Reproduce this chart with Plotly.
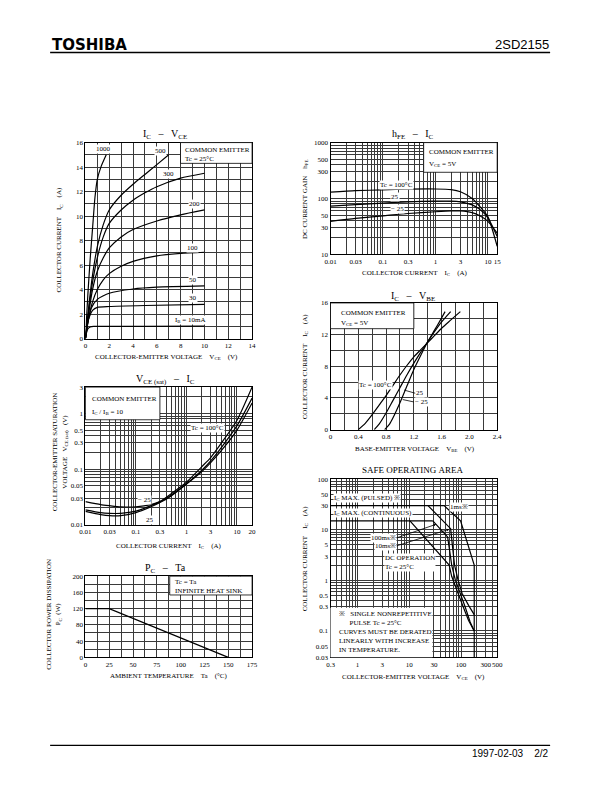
import numpy as np
import plotly.graph_objects as go

SERIF = "Liberation Serif"
W, H = 612, 792
GRID = "#3a3a3a"
NB = "\u00a0"
GAP = NB * 4

# ---------------- DATA ----------------
# IC - VCE  (IB in mA)
vce_1000 = [0, 0.2, 0.4, 0.6, 0.8, 1.0, 1.3, 1.75]
ic_1000 = [0, 3.5, 6.5, 9.0, 11.5, 13.0, 14.0, 15.0]
vce_500 = [0, 0.3, 0.6, 1, 1.5, 2, 3, 4, 5, 6, 7]
ic_500 = [0, 2.8, 5.2, 7.5, 9.3, 10.5, 11.7, 12.6, 13.4, 14.2, 15.0]
vce_300 = [0, 0.3, 0.6, 1, 1.5, 2, 3, 4, 5, 6, 8, 10]
ic_300 = [0, 2.5, 4.6, 6.6, 8.3, 9.4, 10.5, 11.3, 11.9, 12.4, 13.1, 13.5]
vce_200 = [0, 0.3, 0.6, 1, 1.5, 2, 3, 4, 6, 8, 10]
ic_200 = [0, 2.2, 4.0, 5.5, 6.6, 7.4, 8.3, 8.9, 9.6, 10.1, 10.5]
vce_100 = [0, 0.3, 0.6, 1, 1.5, 2, 3, 4, 6, 8, 10]
ic_100 = [0, 1.8, 3.0, 4.0, 4.8, 5.3, 5.9, 6.3, 6.75, 6.95, 7.05]
vce_50 = [0, 0.2, 0.5, 1, 2, 4, 6, 10]
ic_50 = [0, 1.3, 2.5, 3.2, 3.7, 4.05, 4.2, 4.3]
vce_30 = [0, 0.1, 0.3, 0.6, 1, 2, 5, 10]
ic_30 = [0, 0.8, 1.7, 2.3, 2.55, 2.62, 2.7, 2.8]
vce_10 = [0, 0.1, 0.2, 0.4, 0.7, 1, 5, 10]
ic_10 = [0, 0.5, 0.8, 0.95, 1.0, 1.0, 1.0, 1.02]

# hFE - IC
ic_h = [0.01, 0.03, 0.1, 0.3, 1, 2, 3, 5, 7, 10, 15]
hfe_100 = [130, 138, 143, 147, 148, 144, 132, 100, 72, 47, 14]
hfe_25 = [73, 78, 83, 87, 90, 90, 87, 77, 64, 45, 21]
hfe_m25 = [39, 44, 49, 54, 58, 60, 60, 56, 49, 39, 24]

# IC - VBE
vbe_100 = [0.40, 0.5, 0.6, 0.7, 0.8, 0.9, 1.0, 1.1, 1.2, 1.3, 1.4, 1.5, 1.6, 1.7, 1.87]
icb_100 = [0, 0.8, 1.9, 3.1, 4.3, 5.6, 6.9, 8.1, 9.2, 10.1, 11.0, 11.9, 12.8, 13.6, 14.9]
vbe_25 = [0.63, 0.7, 0.8, 0.9, 1.0, 1.1, 1.2, 1.3, 1.4, 1.5, 1.6, 1.73]
icb_25 = [0, 0.7, 2.1, 3.7, 5.3, 6.9, 8.4, 9.8, 11.1, 12.4, 13.6, 14.9]
vbe_m25 = [0.78, 0.85, 0.9, 1.0, 1.1, 1.2, 1.3, 1.4, 1.5, 1.58, 1.65]
icb_m25 = [0, 0.7, 1.5, 3.4, 5.5, 7.6, 9.4, 11.1, 12.6, 13.8, 14.9]

# VCE(sat) - IC
ic_s = [0.01, 0.02, 0.03, 0.05, 0.1, 0.2, 0.3, 0.5, 1, 2, 3, 5, 10, 20]
vs_100 = [0.0185, 0.0165, 0.016, 0.016, 0.0175, 0.022, 0.026, 0.036, 0.058, 0.11, 0.16, 0.30, 0.75, 3.0]
vs_25 = [0.0173, 0.0152, 0.0145, 0.0145, 0.0165, 0.021, 0.025, 0.033, 0.054, 0.095, 0.14, 0.25, 0.60, 1.9]
vs_m25 = [0.026, 0.023, 0.022, 0.021, 0.021, 0.023, 0.026, 0.034, 0.054, 0.09, 0.13, 0.22, 0.50, 1.55]

# PC - Ta
ta = [0, 25, 150]
pc = [120, 120, 0]

# Safe operating area
vce_cont = [0.3, 28.5]
ic_cont = [15, 15]
vce_1ms = [0.3, 47, 98, 180, 180]
ic_1ms = [30, 30, 15, 2.0, 0.03]
vce_10ms = [23, 44, 63, 68, 75, 88, 105, 140, 180]
ic_10ms = [30, 15, 10.5, 5, 2, 1.0, 0.55, 0.32, 0.21]
vce_100ms = [28.5, 55, 60, 66, 78, 94, 120, 150, 180]
ic_100ms = [15, 7.2, 4, 2, 1.0, 0.6, 0.3, 0.15, 0.1]
vce_dc = [10.3, 59, 66, 75, 85, 110, 140, 180]
ic_dc = [15, 2.0, 1.2, 0.8, 0.6, 0.3, 0.16, 0.1]


# ---------------- helpers ----------------
def PX(x):
    return x / W


def PY(y):
    return 1 - y / H


def logvals(lo, hi):
    out = []
    for d in range(-3, 4):
        for k in range(1, 10):
            v = k * 10 ** d
            if lo - 1e-12 <= v <= hi + 1e-12:
                out.append(round(v, 6))
    return out


fig = go.Figure()
annots = []
shapes = []


def line(x, y, ax, w=1.2):
    fig.add_trace(go.Scatter(x=x, y=y, mode="lines", xaxis="x" + ax, yaxis="y" + ax,
                             line=dict(color="black", width=w, shape="spline", smoothing=0.6),
                             showlegend=False, hoverinfo="skip"))


def pline(x, y, ax, w=1.2):
    fig.add_trace(go.Scatter(x=x, y=y, mode="lines", xaxis="x" + ax, yaxis="y" + ax,
                             line=dict(color="black", width=w),
                             showlegend=False, hoverinfo="skip"))


def txt(text, x, y, size=7, xa="center", ya="middle", angle=0, xref="paper", yref="paper",
        bg=None, family=SERIF, color="black", align="center"):
    d = dict(text=text, x=x, y=y, xref=xref, yref=yref, showarrow=False, xanchor=xa, yanchor=ya,
             textangle=angle, font=dict(family=family, size=size, color=color), borderpad=0, align=align)
    if bg:
        d["bgcolor"] = bg
    annots.append(d)


def box(x0, y0, x1, y1):
    shapes.append(dict(type="rect", xref="paper", yref="paper", x0=PX(x0), x1=PX(x1),
                       y0=PY(y1), y1=PY(y0), fillcolor="white", line=dict(color="black", width=0.8),
                       layer="above"))


def axis(domain, rng, tickvals, ticktext, minor_vals, anchor, log=False):
    d = dict(domain=domain, range=rng, anchor=anchor, showline=True, linecolor="black", linewidth=1,
             mirror=True, ticks="", showgrid=True, gridcolor=GRID, gridwidth=0.6, zeroline=False,
             tickvals=tickvals, ticktext=ticktext, tickfont=dict(family=SERIF, size=7, color="black"),
             tickangle=0,
             minor=dict(tickvals=minor_vals, showgrid=True, gridcolor=GRID, gridwidth=0.5, ticks=""),
             fixedrange=True)
    if log:
        d["type"] = "log"
    return d


# ---------------- Chart 1 : IC - VCE ----------------
for xs, ys in [(vce_1000, ic_1000), (vce_500, ic_500), (vce_300, ic_300), (vce_200, ic_200),
               (vce_100, ic_100), (vce_50, ic_50), (vce_30, ic_30), (vce_10, ic_10)]:
    line(xs, ys, "1")

x1t = list(range(0, 15, 2))
y1t = list(range(0, 17, 2))
xax1 = axis([PX(81), PX(251)], [0, 14], x1t, [str(v) for v in x1t], list(range(1, 14, 2)), "y1")
yax1 = axis([PY(338), PY(140)], [0, 16], y1t, [str(v) for v in y1t], list(range(1, 16, 2)), "x1")

for t, x, y in [("1000", 1.55, 15.45), ("500", 6.3, 15.3), ("300", 7.0, 13.4), ("200", 9.2, 11.0),
                ("100", 9.0, 7.4), ("50", 9.0, 4.75), ("30", 9.0, 3.3)]:
    txt(t, x, y, xref="x", yref="y", bg="white")
txt("I<sub>B</sub>" + NB + "=" + NB + "10mA", 8.86, 1.48, xref="x", yref="y", bg="white")
box(178, 140, 251, 161)
txt("COMMON" + NB + "EMITTER", PX(182), PY(147.5), xa="left")
txt("Tc" + NB + "=" + NB + "25°C", PX(182), PY(157), xa="left")
txt("I<sub>C</sub>" + NB * 3 + "–" + NB * 3 + "V<sub>CE</sub>", PX(162), PY(131.5), size=10)
txt("COLLECTOR-EMITTER" + NB + "VOLTAGE" + GAP + "V<sub>CE</sub>" + GAP + "(V)", PX(164), PY(357))
txt("COLLECTOR" + NB + "CURRENT" + GAP + "I<sub>C</sub>" + GAP + "(A)", PX(54), PY(238), angle=-90)

# ---------------- Chart 2 : hFE - IC ----------------
for ys in [hfe_100, hfe_25, hfe_m25]:
    line(ic_h, ys, "2")
x2t = [0.01, 0.03, 0.1, 0.3, 1, 3, 10, 15]
y2t = [10, 30, 50, 100, 300, 500, 1000]
xax2 = axis([PX(331), PX(501)], [np.log10(0.01), np.log10(15)], x2t,
            ["0.01", "0.03", "0.1", "0.3", "1", "3", "10", "15"], logvals(0.01, 15), "y2", log=True)
yax2 = axis([PY(253), PY(140)], [1, 3], y2t, [str(v) for v in y2t], logvals(10, 1000), "x2", log=True)
txt("Tc" + NB + "=" + NB + "100°C", np.log10(0.18), np.log10(177), xref="x2", yref="y2", bg="white")
txt("25", np.log10(0.17), np.log10(106), xref="x2", yref="y2", bg="white")
txt("−" + NB + "25", np.log10(0.19), np.log10(64), xref="x2", yref="y2", bg="white")
box(426, 140, 501, 170)
txt("COMMON" + NB + "EMITTER", PX(430), PY(150), xa="left")
txt("V<sub>CE</sub>" + NB + "=" + NB + "5V", PX(430), PY(161.5), xa="left")
txt("h<sub>FE</sub>" + NB * 3 + "–" + NB * 3 + "I<sub>C</sub>", PX(415), PY(131.5), size=10)
txt("COLLECTOR" + NB + "CURRENT" + GAP + "I<sub>C</sub>" + GAP + "(A)", PX(417), PY(272))
txt("DC" + NB + "CURRENT" + NB + "GAIN" + GAP + "h<sub>FE</sub>", PX(305), PY(197), angle=-90)

# ---------------- Chart 3 : IC - VBE ----------------
for xs, ys in [(vbe_100, icb_100), (vbe_25, icb_25), (vbe_m25, icb_m25)]:
    line(xs, ys, "3")
x3t = [0, 0.4, 0.8, 1.2, 1.6, 2.0, 2.4]
y3t = [0, 4, 8, 12, 16]
xax3 = axis([PX(331), PX(501)], [0, 2.4], x3t, ["0", "0.4", "0.8", "1.2", "1.6", "2.0", "2.4"],
            [0.2, 0.6, 1.0, 1.4, 1.8, 2.2], "y3")
yax3 = axis([PY(430), PY(302)], [0, 16], y3t, [str(v) for v in y3t], [2, 6, 10, 14], "x3")
txt("Tc" + NB + "=" + NB + "100°C", 0.40, 5.7, xa="left", xref="x3", yref="y3", bg="white")
annots.append(dict(text="25", x=1.06, y=5.0, ax=1.22, ay=4.6, xref="x3", yref="y3", axref="x3", ayref="y3",
                   showarrow=True, arrowhead=0, arrowwidth=0.8, arrowcolor="black", xanchor="left",
                   font=dict(family=SERIF, size=7, color="black"), bgcolor="white", borderpad=0))
annots.append(dict(text="−" + NB + "25", x=1.04, y=3.8, ax=1.2, ay=3.5, xref="x3", yref="y3", axref="x3",
                   ayref="y3", showarrow=True, arrowhead=0, arrowwidth=0.8, arrowcolor="black", xanchor="left",
                   font=dict(family=SERIF, size=7, color="black"), bgcolor="white", borderpad=0))
box(331, 302, 416, 328)
txt("COMMON" + NB + "EMITTER", PX(341), PY(312), xa="left")
txt("V<sub>CE</sub>" + NB + "=" + NB + "5V", PX(341), PY(322.5), xa="left")
txt("I<sub>C</sub>" + NB * 3 + "–" + NB * 3 + "V<sub>BE</sub>", PX(415), PY(295), size=10)
txt("BASE-EMITTER" + NB + "VOLTAGE" + GAP + "V<sub>BE</sub>" + GAP + "(V)", PX(417), PY(449.5))
txt("COLLECTOR" + NB + "CURRENT" + GAP + "I<sub>C</sub>" + GAP + "(A)", PX(305), PY(366), angle=-90)

# ---------------- Chart 4 : VCE(sat) - IC ----------------
for ys in [vs_100, vs_25, vs_m25]:
    line(ic_s, ys, "4")
x4t = [0.01, 0.03, 0.1, 0.3, 1, 3, 10, 20]
y4t = [0.01, 0.03, 0.05, 0.1, 0.3, 0.5, 1, 3]
xax4 = axis([PX(81), PX(251)], [np.log10(0.01), np.log10(20)], x4t,
            ["0.01", "0.03", "0.1", "0.3", "1", "3", "10", "20"], logvals(0.01, 20), "y4", log=True)
yax4 = axis([PY(526), PY(387)], [np.log10(0.01), np.log10(3)], y4t,
            ["0.01", "0.03", "0.05", "0.1", "0.3", "0.5", "1", "3"], logvals(0.01, 3), "x4", log=True)
txt("Tc" + NB + "=" + NB + "100°C", np.log10(2.58), np.log10(0.54), xref="x4", yref="y4", bg="white")
txt("−" + NB + "25", np.log10(0.145), np.log10(0.0284), xref="x4", yref="y4", bg="white")
txt("25", np.log10(0.19), np.log10(0.0124), xref="x4", yref="y4", bg="white")
box(81, 387, 157, 420)
txt("COMMON" + NB + "EMITTER", PX(87), PY(399), xa="left")
txt("I<sub>C</sub>" + NB + "/" + NB + "I<sub>B</sub>" + NB + "=" + NB + "10", PX(87), PY(412), xa="left")
txt("V<sub>CE (sat)</sub>" + NB * 3 + "–" + NB * 3 + "I<sub>C</sub>", PX(163), PY(379.5), size=10)
txt("COLLECTOR" + NB + "CURRENT" + GAP + "I<sub>C</sub>" + GAP + "(A)", PX(166), PY(548))
txt("COLLECTOR-EMITTER" + NB + "SATURATION<br>VOLTAGE" + NB * 3 + "V<sub>CE (sat)</sub>" + NB * 3 + "(V)",
    PX(56), PY(452), angle=-90)

# ---------------- Chart 5 : PC - Ta ----------------
pline(ta, pc, "5")
x5t = [0, 25, 50, 75, 100, 125, 150, 175]
y5t = [0, 40, 80, 120, 160, 200]
xax5 = axis([PX(81), PX(251)], [0, 175], x5t, [str(v) for v in x5t],
            [12.5, 37.5, 62.5, 87.5, 112.5, 137.5, 162.5], "y5")
yax5 = axis([PY(660), PY(578)], [0, 200], y5t, [str(v) for v in y5t], [20, 60, 100, 140, 180], "x5")
box(167, 578, 251, 597)
txt("Tc" + NB + "=" + NB + "Ta<br>INFINITE" + NB + "HEAT" + NB + "SINK", PX(171), PY(588.5), xa="left",
    align="left")
txt("P<sub>C</sub>" + NB * 3 + "–" + NB * 3 + "Ta", PX(163), PY(570), size=10)
txt("AMBIENT" + NB + "TEMPERATURE" + GAP + "Ta" + GAP + "(°C)", PX(166), PY(679))
txt("COLLECTOR" + NB + "POWER" + NB + "DISSIPATION<br>P<sub>C</sub>" + NB * 2 + "(W)", PX(49), PY(617),
    angle=-90)

# ---------------- Chart 6 : SOA ----------------
pline(vce_cont, ic_cont, "6")
pline(vce_1ms, ic_1ms, "6")
for xs, ys in [(vce_10ms, ic_10ms), (vce_100ms, ic_100ms), (vce_dc, ic_dc)]:
    pline(xs, ys, "6")
x6t = [0.3, 1, 3, 10, 30, 100, 300, 500]
y6t = [0.03, 0.05, 0.1, 0.3, 0.5, 1, 3, 5, 10, 30, 50, 100]
xax6 = axis([PX(331), PX(501)], [np.log10(0.3), np.log10(500)], x6t,
            ["0.3", "1", "3", "10", "30", "100", "300", "500"], logvals(0.3, 500), "y6", log=True)
yax6 = axis([PY(660), PY(480)], [np.log10(0.03), np.log10(100)], y6t,
            ["0.03", "0.05", "0.1", "0.3", "0.5", "1", "3", "5", "10", "30", "50", "100"],
            logvals(0.03, 100), "x6", log=True)
L = np.log10
txt("I<sub>C</sub>" + NB + "MAX." + NB + "(PULSED)" + NB + "※", L(0.34), L(43), xa="left",
    xref="x6", yref="y6", bg="white")
txt("I<sub>C</sub>" + NB + "MAX." + NB + "(CONTINUOUS)", L(0.34), L(21), xa="left",
    xref="x6", yref="y6", bg="white")
txt("1ms※", L(91), L(28.6), xref="x6", yref="y6", bg="white")
annots.append(dict(text="100ms※", x=L(33), y=L(12.8), ax=L(5.7), ay=L(6.9), xref="x6", yref="y6",
                   axref="x6", ayref="y6", showarrow=True, arrowhead=2, arrowsize=0.6, arrowwidth=0.8,
                   arrowcolor="black", xanchor="right", font=dict(family=SERIF, size=7, color="black"),
                   bgcolor="white", borderpad=0))
annots.append(dict(text="10ms※", x=L(59), y=L(10.2), ax=L(5.7), ay=L(4.8), xref="x6", yref="y6",
                   axref="x6", ayref="y6", showarrow=True, arrowhead=2, arrowsize=0.6, arrowwidth=0.8,
                   arrowcolor="black", xanchor="right", font=dict(family=SERIF, size=7, color="black"),
                   bgcolor="white", borderpad=0))
txt("DC" + NB + "OPERATION<br>Tc" + NB + "=" + NB + "25°C", L(3.3), L(2.25), xa="left", xref="x6", yref="y6",
    bg="white", align="left")
shapes.append(dict(type="rect", xref="paper", yref="paper", x0=PX(331), x1=PX(435), y0=PY(660), y1=PY(610),
                   fillcolor="white", line=dict(width=0), layer="above"))
note = ("※" + NB * 3 + "SINGLE" + NB + "NONREPETITIVE<br>"
        + NB * 6 + "PULSE" + NB + "Tc" + NB + "=" + NB + "25°C<br>"
        + "CURVES" + NB + "MUST" + NB + "BE" + NB + "DERATED<br>"
        + "LINEARLY" + NB + "WITH" + NB + "INCREASE<br>"
        + "IN" + NB + "TEMPERATURE.")
txt(note, L(0.42), L(0.095), xa="left", xref="x6", yref="y6", align="left")
txt("SAFE" + NB + "OPERATING" + NB + "AREA", PX(415), PY(470.5), size=9)
txt("COLLECTOR-EMITTER" + NB + "VOLTAGE" + GAP + "V<sub>CE</sub>" + GAP + "(V)", PX(416), PY(680))
txt("COLLECTOR" + NB + "CURRENT" + GAP + "I<sub>C</sub>" + GAP + "(A)", PX(305), PY(560), angle=-90)

# ---------------- header / footer ----------------
txt("<b>TOSHIBA</b>", PX(46), PY(41), size=15, xa="left", family="DejaVu Sans")
txt("2SD2155", PX(555), PY(41), size=13, xa="right", family="Liberation Sans")
txt("1997-02-03" + NB * 4 + "2/2", PX(555), PY(757), size=10, xa="right", family="Liberation Sans")
shapes.append(dict(type="line", xref="paper", yref="paper", x0=PX(45), x1=PX(555), y0=PY(49), y1=PY(49),
                   line=dict(color="black", width=1.5)))
shapes.append(dict(type="line", xref="paper", yref="paper", x0=PX(45), x1=PX(555), y0=PY(749), y1=PY(749),
                   line=dict(color="black", width=1.2)))

fig.update_layout(
    width=W, height=H, margin=dict(l=0, r=0, t=0, b=0),
    paper_bgcolor="white", plot_bgcolor="white", showlegend=False,
    xaxis=xax1, yaxis=yax1, xaxis2=xax2, yaxis2=yax2, xaxis3=xax3, yaxis3=yax3,
    xaxis4=xax4, yaxis4=yax4, xaxis5=xax5, yaxis5=yax5, xaxis6=xax6, yaxis6=yax6,
    annotations=annots, shapes=shapes,
)
fig.write_html("out.html", config={"displayModeBar": False},
               post_script="document.body.style.margin='0';document.body.style.overflow='hidden';")
